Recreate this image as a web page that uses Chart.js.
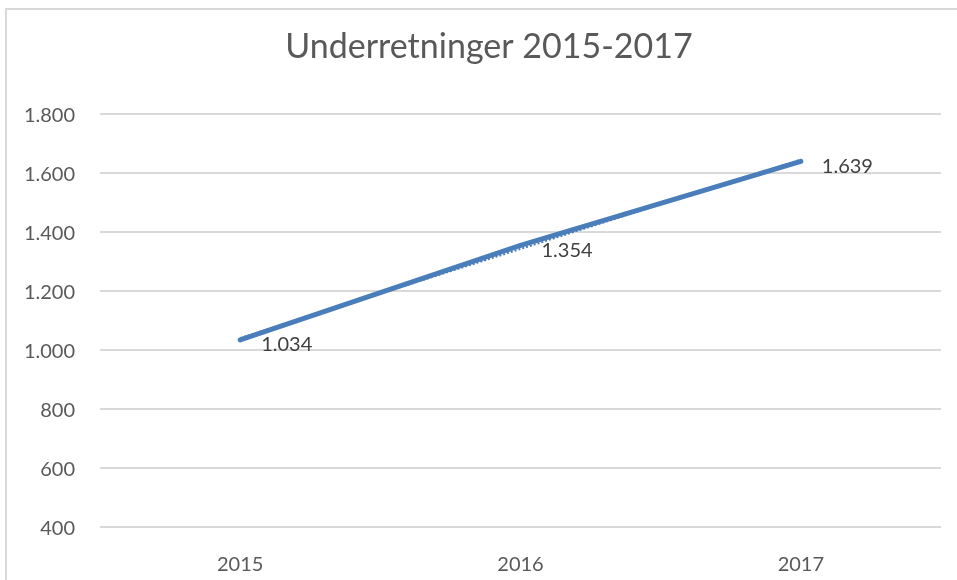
<!DOCTYPE html>
<html>
<head>
<meta charset="utf-8">
<script src="https://cdn.jsdelivr.net/npm/chart.js@4/dist/chart.umd.min.js"></script>
<style>
  html, body { margin: 0; padding: 0; background: #ffffff; overflow: hidden; }
  #frame { position: absolute; left: 5px; top: 8px; width: 1200px; height: 800px;
           border-left: 2px solid #d9d9d9; border-top: 2px solid #d9d9d9; }
  #c { position: absolute; left: 0; top: 0; }
</style>
</head>
<body>
<div id="frame"></div>
<canvas id="c" width="957" height="580"></canvas>
<script>
const categories = ['2015', '2016', '2017'];
const underretninger = [1034, 1354, 1639];
const trendValues = [1040, 1342, 1645];
const yTicksMin = 400;
const yTicksMax = 1800;
const yTickStep = 200;
const titleText = 'Underretninger 2015-2017';

const FONT = "Lato, 'Open Sans', sans-serif";
const TXT = '#595959';
const LINE = '#4a7ebb';

function fmt(v) {
  return String(Math.round(v)).replace(/\B(?=(\d{3})+(?!\d))/g, '.');
}

const dataLabels = {
  id: 'dataLabels',
  afterDatasetsDraw(chart) {
    const meta = chart.getDatasetMeta(1);
    const ctx = chart.ctx;
    ctx.save();
    ctx.font = '20px ' + FONT;
    ctx.fillStyle = '#404040';
    ctx.textAlign = 'left';
    ctx.textBaseline = 'middle';
    meta.data.forEach((pt, i) => {
      ctx.fillText(fmt(underretninger[i]), pt.x + 21, pt.y + 5);
    });
    ctx.restore();
  }
};

// Centre the title on the framed chart (frame extends past the right edge)
const titleShift = {
  id: 'titleShift',
  afterLayout(chart) {
    const t = chart.titleBlock;
    if (t) { t.left = 37; t.right = 941; }
  }
};

new Chart(document.getElementById('c'), {
  type: 'line',
  data: {
    labels: categories,
    datasets: [
      {
        label: 'Trend',
        data: trendValues,
        borderColor: LINE,
        borderWidth: 2,
        borderDash: [2, 2],
        pointRadius: 0,
        tension: 0,
        order: 2
      },
      {
        label: 'Underretninger',
        data: underretninger,
        borderColor: LINE,
        borderWidth: 5,
        borderCapStyle: 'round',
        pointRadius: 0,
        tension: 0,
        order: 1
      }
    ]
  },
  options: {
    responsive: false,
    animation: false,
    layout: { padding: { left: 0, right: 16, top: 0, bottom: 0 } },
    plugins: {
      legend: { display: false },
      tooltip: { enabled: false },
      title: {
        display: true,
        text: titleText,
        color: TXT,
        font: { family: FONT, size: 34, weight: 'normal' },
        padding: { top: 27, bottom: 46 }
      }
    },
    scales: {
      x: {
        offset: true,
        grid: { display: false, drawTicks: false },
        border: { display: false },
        ticks: { color: TXT, font: { family: FONT, size: 20 }, padding: 26, maxRotation: 0 },
        afterFit(scale) { scale.height = 53; }
      },
      y: {
        min: yTicksMin,
        max: yTicksMax,
        grid: { color: '#d9d9d9', lineWidth: 2, drawTicks: false },
        border: { display: false },
        ticks: {
          stepSize: yTickStep,
          color: TXT,
          font: { family: FONT, size: 20 },
          padding: 25,
          labelOffset: 2,
          callback: (v) => fmt(v)
        },
        afterFit(scale) { scale.width = 100; }
      }
    }
  },
  plugins: [dataLabels, titleShift]
});
</script>
</body>
</html>
